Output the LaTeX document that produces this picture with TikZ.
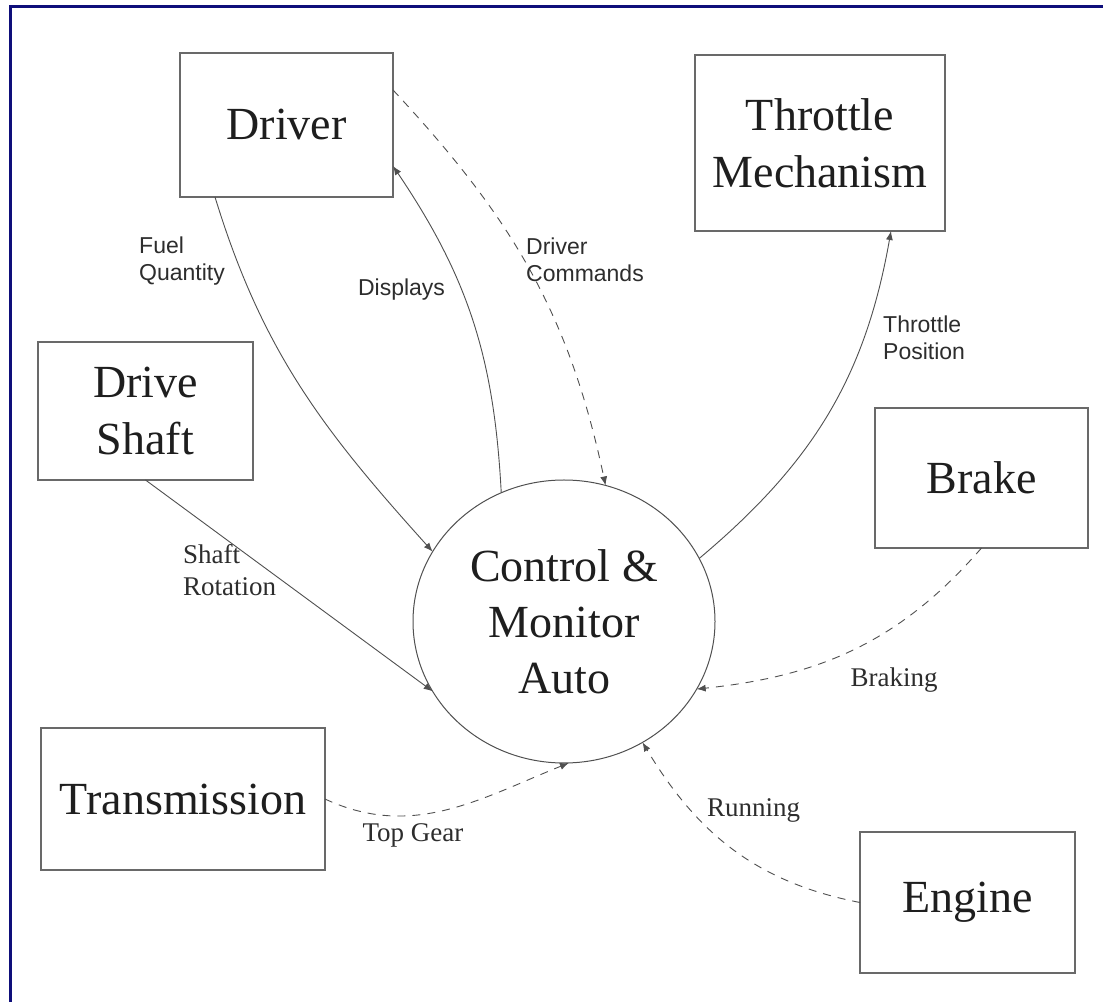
\documentclass[tikz,border=0pt]{standalone}
\usepackage{fontspec}
\setmainfont{Liberation Serif}
\newfontfamily\labelsans{Liberation Sans}
\usetikzlibrary{arrows.meta,shapes.geometric}
\definecolor{frameblue}{RGB}{14,14,122}
\definecolor{inkline}{RGB}{80,80,80}
\definecolor{boxline}{RGB}{105,105,105}
\definecolor{inktext}{RGB}{30,30,30}
\definecolor{labeltext}{RGB}{45,45,45}

\tikzset{
  entity/.style={draw=boxline, line width=1.1pt, inner sep=0pt, outer sep=0pt,
    align=center, text=inktext, font=\fontsize{46}{57}\selectfont},
  process/.style={ellipse, draw=inkline, line width=1pt, inner sep=0pt, outer sep=0pt,
    minimum width=302pt, minimum height=283pt, align=center, text=inktext,
    font=\fontsize{46}{56}\selectfont},
  flow/.style={draw=inkline, line width=0.9pt, -{Latex[length=9pt,width=7pt]}},
  event/.style={flow, dash pattern=on 8pt off 7pt},
  sanslabel/.style={inner sep=0pt, align=left, text=labeltext,
    font=\labelsans\fontsize{23}{27}\selectfont},
  seriflabel/.style={inner sep=0pt, align=left, text=labeltext,
    font=\fontsize{27}{32}\selectfont},
}

\begin{document}
\begin{tikzpicture}[x=1pt, y=1pt]
  % page and frame
  \useasboundingbox (0,0) rectangle (1103,1002);
  \fill[white] (0,0) rectangle (1103,1002);
  \fill[frameblue] (9,994) rectangle (1103,997);
  \fill[frameblue] (9,0) rectangle (12,997);

  % terminators
  \node[entity, minimum width=213pt, minimum height=144pt] (driver) at (286.5,877) {Driver};
  \node[entity, minimum width=250pt, minimum height=176pt] (throttle) at (820,859) {Throttle\\Mechanism};
  \node[entity, minimum width=215pt, minimum height=138pt] (shaft) at (145.5,591) {Drive\\Shaft};
  \node[entity, minimum width=213pt, minimum height=140pt] (brake) at (981.5,524) {Brake};
  \node[entity, minimum width=284pt, minimum height=142pt] (trans) at (183,203) {Transmission};
  \node[entity, minimum width=215pt, minimum height=141pt] (engine) at (967.5,99.5) {Engine};

  % central process
  \node[process] (ctrl) at (564,380.5) {Control \&\\Monitor\\Auto};

  % data flows
  \draw[flow] ([xshift=-71.5pt]driver.south) to[out=-73, in=132] (ctrl.152);
  \draw[flow] (ctrl.116) to[out=93, in=-56] ([yshift=-41pt]driver.east);
  \draw[flow] (ctrl.25) to[out=40, in=-100] ([xshift=71pt]throttle.south);
  \draw[flow] (shaft.south) -- (ctrl.208);

  % event flows
  \draw[event] ([yshift=35pt]driver.east) to[out=-47, in=102] (ctrl.73);
  \draw[event] (brake.south) to[out=-131, in=6] (ctrl.-27);
  \draw[event] (engine.west) to[out=169, in=-59] (ctrl.-57);
  \draw[event] (trans.east) to[out=-25, in=-158] (ctrl.-88);

  % flow labels
  \node[sanslabel, anchor=west] (lfuel) at (139,740.5) {Fuel\\Quantity};
  \node[sanslabel] (ldisp) at (401.5,712) {Displays};
  \node[sanslabel, anchor=west] (lcmd) at (526,742) {Driver\\Commands};
  \node[sanslabel, anchor=west] (lthr) at (883,664.5) {Throttle\\Position};
  \node[seriflabel, anchor=west] (lshaft) at (183,432) {Shaft\\Rotation};
  \node[seriflabel] (lbrake) at (894,322) {Braking};
  \node[seriflabel] (lrun) at (753.5,192) {Running};
  \node[seriflabel] (lgear) at (413,167) {Top Gear};
\end{tikzpicture}
\end{document}
